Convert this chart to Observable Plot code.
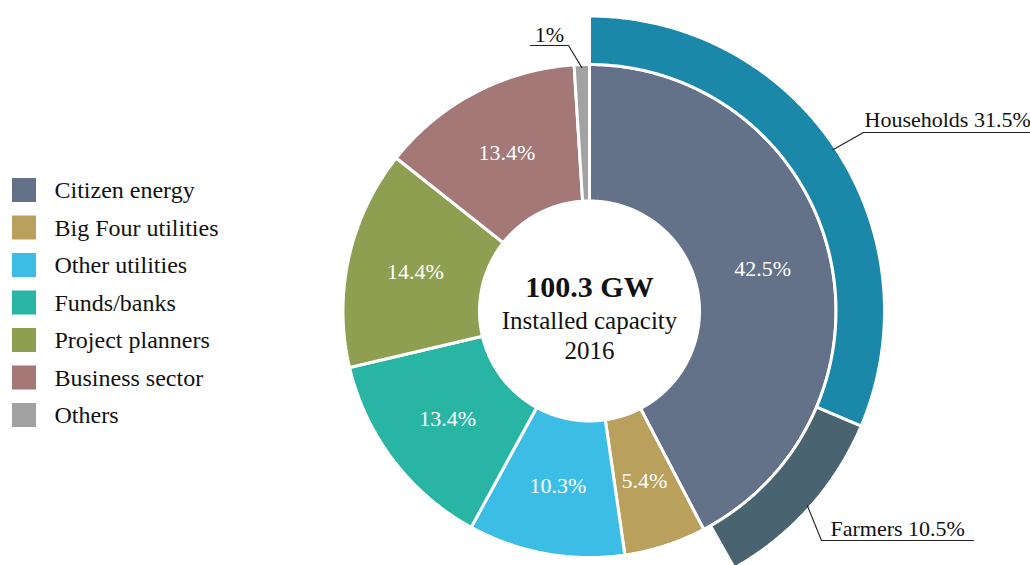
<!DOCTYPE html>
<html><head><meta charset="utf-8">
<script src="https://cdn.jsdelivr.net/npm/d3@7"></script>
<script src="https://cdn.jsdelivr.net/npm/@observablehq/plot@0.6"></script>
<style>html,body{margin:0;padding:0;background:#fff;overflow:hidden} #chart svg{display:block}</style>
</head><body><div id="chart"></div>
<script>
// ---- data ----
const categories = ["Citizen energy","Big Four utilities","Other utilities","Funds/banks","Project planners","Business sector","Others"];
const shares = [42.5, 5.4, 10.3, 13.4, 14.4, 13.4, 1];
const shareLabels = ["42.5%","5.4%","10.3%","13.4%","14.4%","13.4%","1%"];
const colors = ["#637189","#b9a05c","#3cbde6","#28b5a3","#8e9f52","#a37877","#a2a2a2"];
const subCategories = ["Households","Farmers"];
const subShares = [31.5, 10.5];
const subLabels = ["31.5%","10.5%"];
const subColors = ["#1b87a9","#4a6371"];
const centerLines = ["100.3 GW","Installed capacity","2016"];

// ---- layout ----
const W = 1030, H = 565, CX = 589, CY = 310.5;
const R_HOLE = 110, R_MID = 246.5, R_OUT = 295;
const FONT = "Liberation Serif, Times New Roman, serif";
const pt = (a, r) => ({x: CX + r * Math.sin(a), y: CY - r * Math.cos(a)});

const pie = d3.pie().sort(null).value(d => d)(shares);
const slices = pie.map((p, i) => ({key: categories[i], a0: p.startAngle, a1: p.endAngle, r0: R_HOLE, r1: R_MID, label: shareLabels[i]}));
const k = 2 * Math.PI / d3.sum(shares);
let acc = 0;
const subSlices = subShares.map((v, i) => { const a0 = acc * k; acc += v; return {key: subCategories[i], a0, a1: acc * k, r0: R_MID, r1: R_OUT, label: `${subCategories[i]} ${subLabels[i]}`}; });

function polygon(s) {
  const n = Math.max(2, Math.ceil((s.a1 - s.a0) / (Math.PI / 360)));
  const rows = [];
  for (let j = 0; j <= n; j++) { const a = s.a0 + (s.a1 - s.a0) * j / n; rows.push({key: s.key, ...pt(a, s.r1)}); }
  for (let j = n; j >= 0; j--) { const a = s.a0 + (s.a1 - s.a0) * j / n; rows.push({key: s.key, ...pt(a, s.r0)}); }
  rows.push({...rows[0]});
  return rows;
}
const polys = [...slices, ...subSlices].flatMap(polygon);

const mid = s => (s.a0 + s.a1) / 2;
const inLabels = slices.slice(0, 6).map(s => ({text: s.label, ...pt(mid(s), (R_HOLE + R_MID) / 2)}));

// external annotations (leader lines)
const others = slices[6];
const annMid = [
  {id: "o", start: pt(mid(others), R_MID - 3), elbow: {x: 568, y: 45}, end: {x: 530, y: 45}, text: others.label, tx: 549, ty: 34}
];
const annStart = [
  {id: "h", start: pt(mid(subSlices[0]), R_OUT - 3), elbow: {x: 863, y: 132}, end: {x: 1030, y: 132}, text: subSlices[0].label, tx: 864, ty: 119},
  {id: "f", start: pt(mid(subSlices[1]), R_OUT - 3), elbow: {x: 821, y: 540}, end: {x: 973, y: 540}, text: subSlices[1].label, tx: 830, ty: 528}
];
const leaderRows = [...annMid, ...annStart].flatMap(a => [{id: a.id, ...a.start}, {id: a.id, ...a.elbow}, {id: a.id, ...a.end}]);

const legendRows = categories.map((c, i) => ({key: c, yc: 190 + i * 37.5}));

const plot = Plot.plot({
  width: W, height: H,
  margin: 0,
  x: {domain: [0, W], range: [0, W], axis: null},
  y: {domain: [0, H], range: [0, H], axis: null},
  color: {domain: [...categories, ...subCategories], range: [...colors, ...subColors]},
  style: {fontFamily: FONT, background: "white"},
  marks: [
    Plot.line(polys, {x: "x", y: "y", z: "key", fill: "key", stroke: "white", strokeWidth: 3, strokeLinejoin: "miter"}),
    Plot.text(inLabels, {x: "x", y: "y", text: "text", fill: "white", fontSize: 22, fontFamily: FONT}),
    Plot.line(leaderRows, {x: "x", y: "y", z: "id", stroke: "#222", strokeWidth: 1.1}),
    Plot.text(annMid, {x: "tx", y: "ty", text: "text", textAnchor: "middle", fontSize: 22, fontFamily: FONT, fill: "#111"}),
    Plot.text(annStart, {x: "tx", y: "ty", text: "text", textAnchor: "start", fontSize: 22, fontFamily: FONT, fill: "#111"}),
    Plot.text([centerLines[0]], {x: () => CX, y: () => 287, text: d => d, fontSize: 30, fontWeight: "bold", fontFamily: FONT, fill: "#111"}),
    Plot.text([centerLines[1]], {x: () => CX, y: () => 320, text: d => d, fontSize: 25, fontFamily: FONT, fill: "#111"}),
    Plot.text([centerLines[2]], {x: () => CX, y: () => 350, text: d => d, fontSize: 25, fontFamily: FONT, fill: "#111"}),
    Plot.rect(legendRows, {x1: () => 12, x2: () => 36, y1: d => d.yc - 12, y2: d => d.yc + 12, fill: "key"}),
    Plot.text(legendRows, {x: () => 54, y: "yc", text: "key", textAnchor: "start", fontSize: 24, fontFamily: FONT, fill: "#111"})
  ]
});
document.getElementById("chart").append(plot);
</script>
</body></html>
